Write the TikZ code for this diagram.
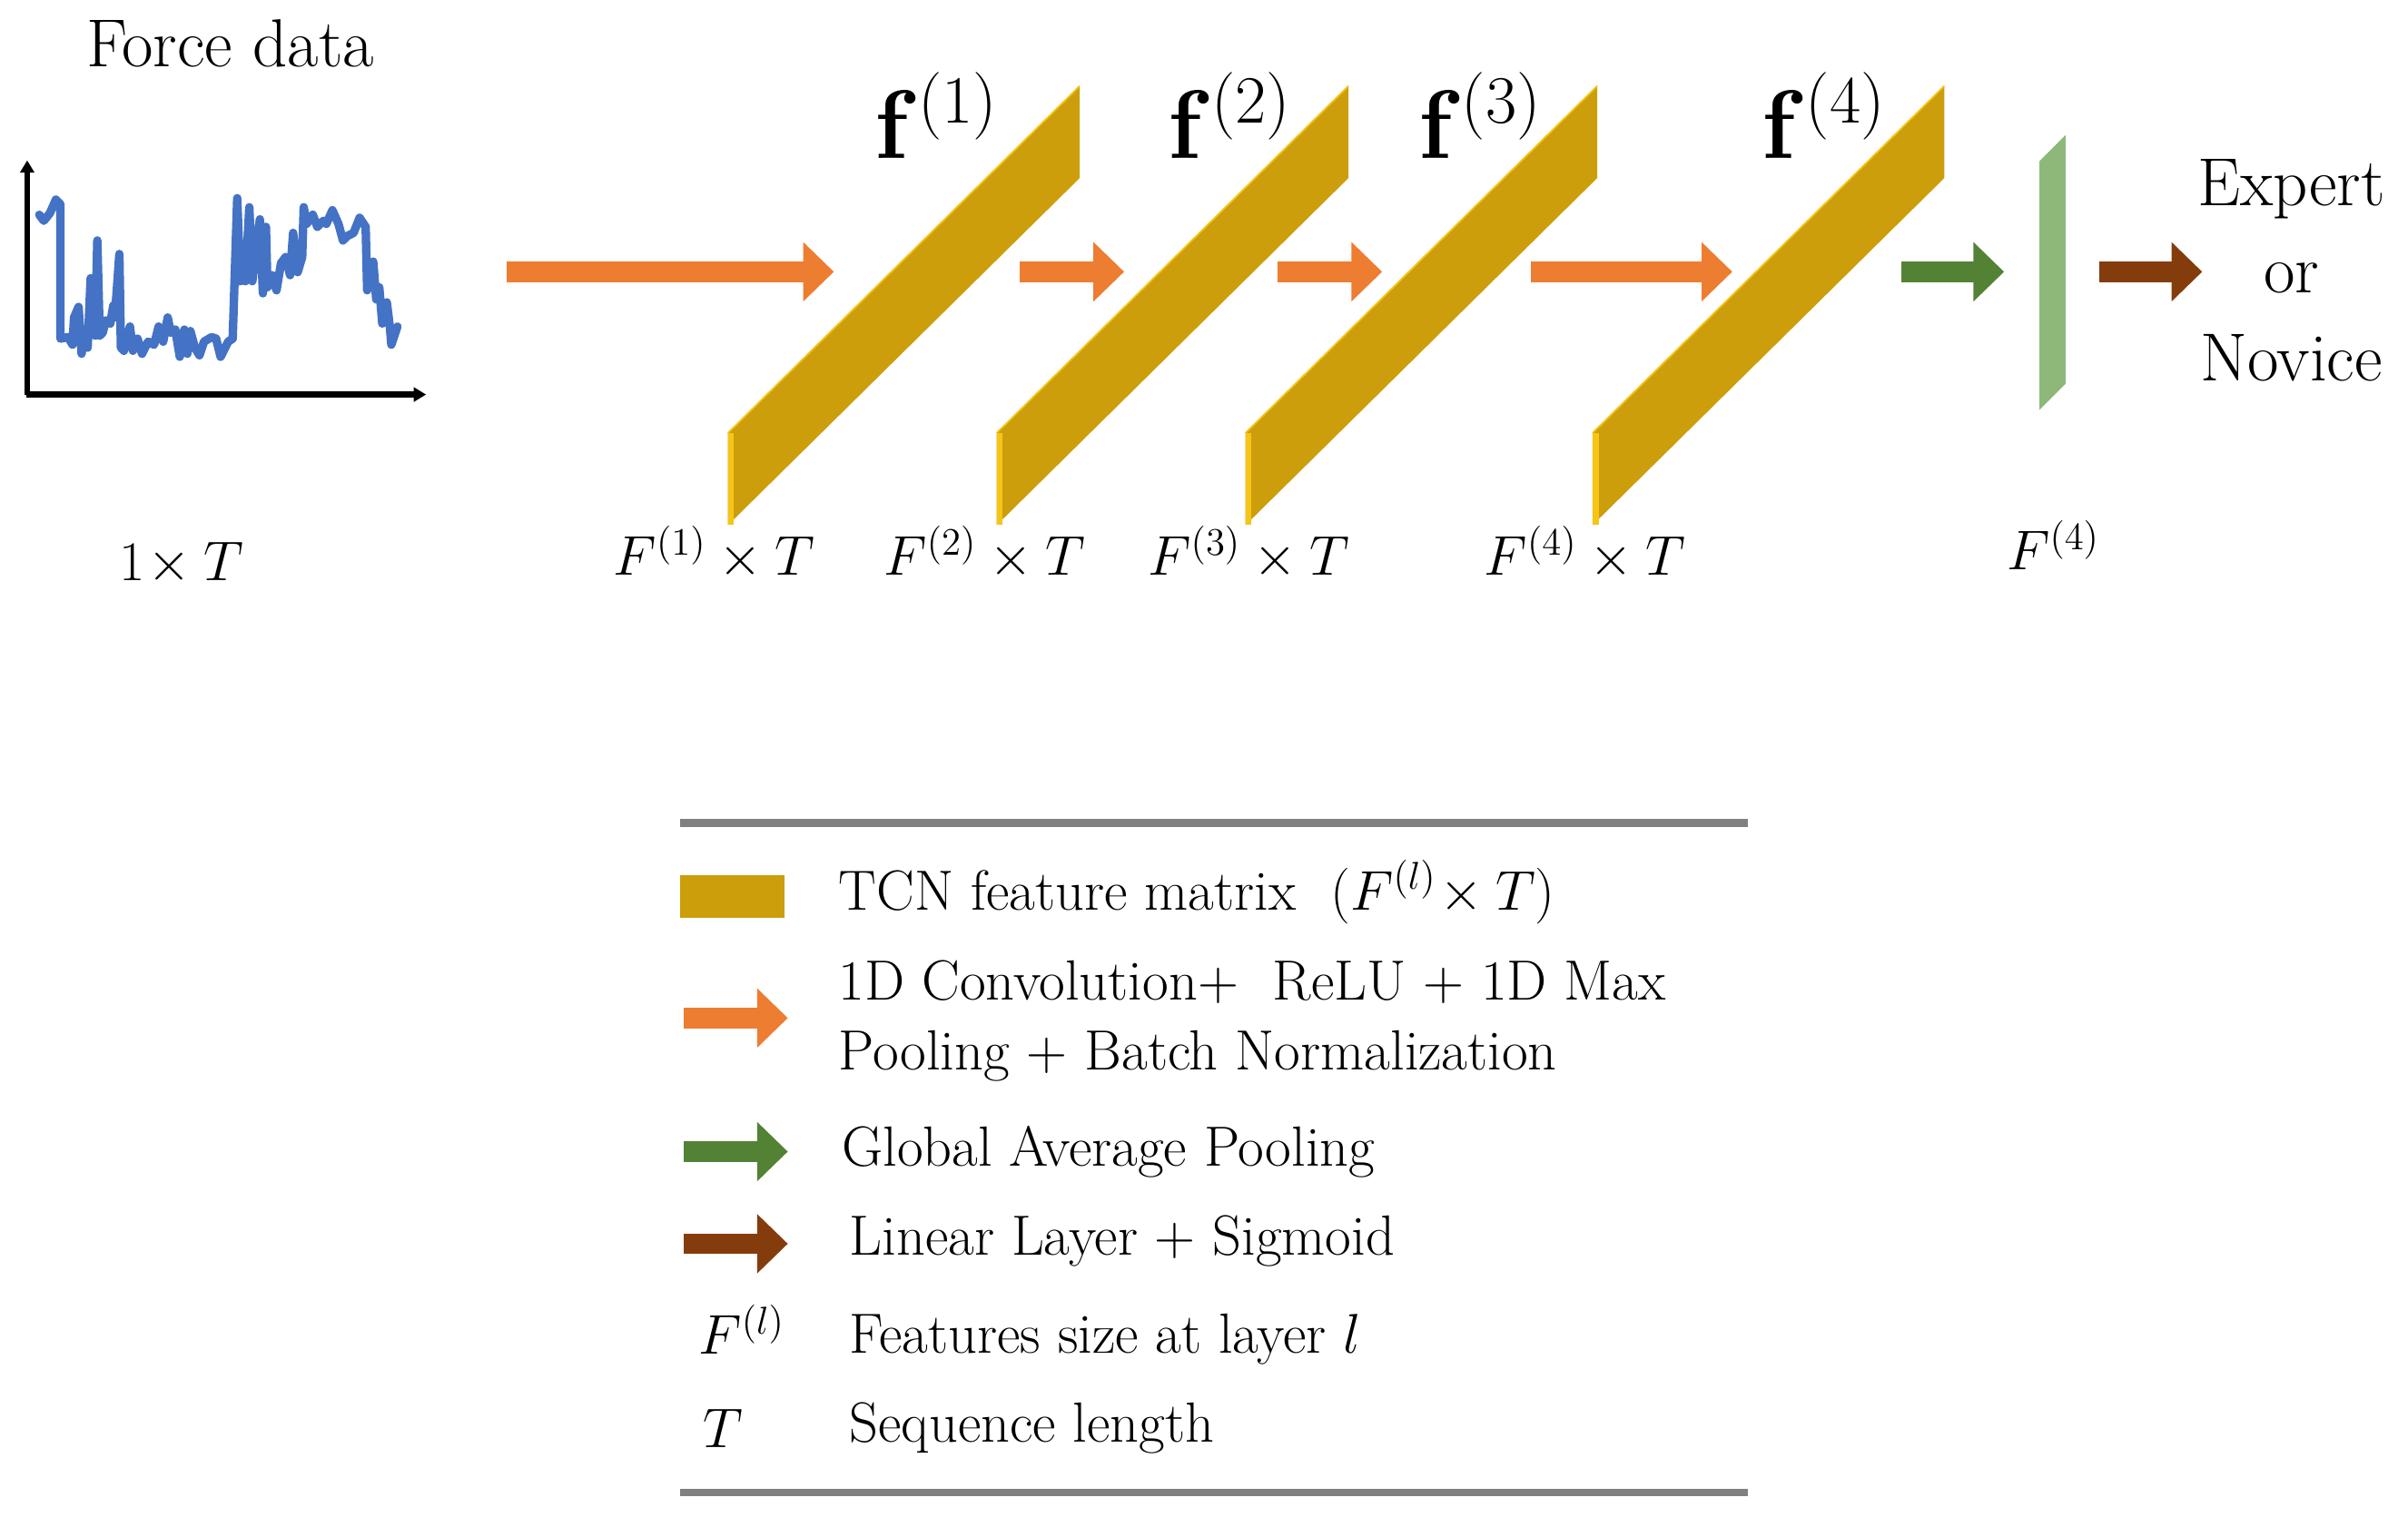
\documentclass[tikz,border=0pt]{standalone}
\usetikzlibrary{arrows.meta}
\definecolor{slab}{HTML}{CC9E0C}
\definecolor{slabl}{HTML}{F5C518}
\definecolor{orng}{HTML}{ED7D31}
\definecolor{grn}{HTML}{548235}
\definecolor{brn}{HTML}{843C0C}
\definecolor{plt}{HTML}{8DB87A}
\definecolor{plotb}{HTML}{4472C4}
\tikzset{
  blk/.style={line width=2.7mm,-{Triangle[length=4mm,width=7.5mm]}},
  big/.style={font=\fontsize{24}{28}\selectfont},
  fl/.style={font=\fontsize{24}{28}\selectfont,scale=1.45},
  lbl/.style={font=\fontsize{21}{24}\selectfont},
  lg/.style={font=\fontsize{21}{26}\selectfont,anchor=west,align=left},
}
\begin{document}
\begin{tikzpicture}[x=0.02cm,y=-0.02cm]
\useasboundingbox (0,0) rectangle (1568,994);
% plot
\begin{scope}[shift={(0,88.7)},x=0.003942cm,y=-0.003942cm]
\draw[line width=0.08cm,-{Triangle[length=1.6mm,width=1.8mm]}] (90,857) -- (90,80);
\draw[line width=0.08cm,-{Triangle[length=1.6mm,width=1.8mm]}] (86,855) -- (1410,855);
\draw[plotb,line width=0.11cm,line join=round,line cap=round] (130,260)--(145,280)--(165,255)--(185,210)--(200,225)--(200,670)--(225,665)--(240,690)--(245,600)--(260,565)--(270,720)--(280,640)--(290,700)--(300,470)--(305,650)--(315,660)--(322,345)--(330,660)--(340,650)--(350,610)--(365,620)--(375,560)--(380,600)--(395,390)--(400,700)--(410,710)--(430,630)--(440,710)--(455,670)--(470,720)--(490,680)--(510,690)--(525,630)--(540,680)--(555,600)--(565,650)--(580,640)--(595,730)--(610,640)--(620,720)--(630,645)--(645,700)--(660,725)--(675,680)--(700,665)--(715,670)--(730,730)--(755,680)--(770,670)--(785,205)--(795,480)--(805,460)--(812,480)--(825,235)--(835,480)--(850,350)--(860,275)--(870,520)--(880,300)--(885,500)--(900,460)--(915,510)--(930,420)--(945,400)--(960,460)--(970,320)--(985,450)--(1000,400)--(1005,235)--(1015,290)--(1035,260)--(1050,300)--(1070,280)--(1080,290)--(1100,245)--(1120,290)--(1135,345)--(1150,330)--(1170,320)--(1190,270)--(1210,300)--(1215,510)--(1235,415)--(1245,540)--(1255,500)--(1265,620)--(1280,550)--(1290,630)--(1295,690)--(1315,630);
\end{scope}
\node[big,scale=1.05] (fd) at (150,28) {Force data};
\node[lbl] (in) at (118,367) {$1\!\times T$};
% slabs
\foreach \x/\n in {474/1,649/2,811/3,1037/4}{
  \fill[slab] (\x,282) -- (\x+229,56) -- (\x+229,116) -- (\x,342) -- cycle;
  \fill[slabl] (\x,282) rectangle (\x+4,342);
  \draw[slabl,line width=0.6pt] (\x,282) -- (\x+229,56);
}
\node[fl] (f1) at (610,75) {$\mathbf{f}^{(1)}$};
\node[fl] (f2) at (801,75) {$\mathbf{f}^{(2)}$};
\node[fl] (f3) at (964,75) {$\mathbf{f}^{(3)}$};
\node[fl] (f4) at (1188,75) {$\mathbf{f}^{(4)}$};
\node[lbl] (s1) at (465,360) {$F^{(1)}\times T$};
\node[lbl] (s2) at (641,360) {$F^{(2)}\times T$};
\node[lbl] (s3) at (813,360) {$F^{(3)}\times T$};
\node[lbl] (s4) at (1032,360) {$F^{(4)}\times T$};
\fill[plt] (1328,105) -- (1345,88) -- (1345,250) -- (1328,267) -- cycle;
\node[lbl] (s5) at (1337,355) {$F^{(4)}$};
\node[big,align=center,scale=1.05] (out) at (1492,176) {Expert\\[3pt]or\\[3pt]Novice};
% arrows
\coordinate (a0) at (330,177); \coordinate (a1) at (543,177);
\coordinate (b0) at (664,177); \coordinate (b1) at (732,177);
\coordinate (c0) at (832,177); \coordinate (c1) at (900,177);
\coordinate (d0) at (997,177); \coordinate (d1) at (1128,177);
\coordinate (e0) at (1238,177); \coordinate (e1) at (1305,177);
\coordinate (g0) at (1367,177); \coordinate (g1) at (1434,177);
\draw[blk,orng] (a0) -- (a1);
\draw[blk,orng] (b0) -- (b1);
\draw[blk,orng] (c0) -- (c1);
\draw[blk,orng] (d0) -- (d1);
\draw[blk,grn] (e0) -- (e1);
\draw[blk,brn] (g0) -- (g1);
% legend
\draw[gray,line width=1mm] (443,536) -- (1138,536);
\draw[gray,line width=1mm] (443,972) -- (1138,972);
\fill[slab] (443,570) rectangle (511,598);
\node[lg] (l1) at (540,581) {TCN feature matrix\ \ $(F^{(l)}\!\times T)$};
\coordinate (la0) at (445,663); \coordinate (la1) at (513,663);
\draw[blk,orng] (la0) -- (la1);
\node[lg] (l2) at (540,665) {1D Convolution+\ \ ReLU + 1D Max\\Pooling + Batch Normalization};
\coordinate (lb0) at (445,750); \coordinate (lb1) at (513,750);
\draw[blk,grn] (lb0) -- (lb1);
\node[lg] (l3) at (542,750) {Global Average Pooling};
\coordinate (lc0) at (445,810); \coordinate (lc1) at (513,810);
\draw[blk,brn] (lc0) -- (lc1);
\node[lg] (l4) at (547,808) {Linear Layer + Sigmoid};
\node[lbl] (l5s) at (483,866) {$F^{(l)}$};
\node[lg] (l5) at (547,872) {Features size at layer $l$};
\node[lbl] (l6s) at (471,930) {$T$};
\node[lg] (l6) at (547,930) {Sequence length};
\end{tikzpicture}
\end{document}
